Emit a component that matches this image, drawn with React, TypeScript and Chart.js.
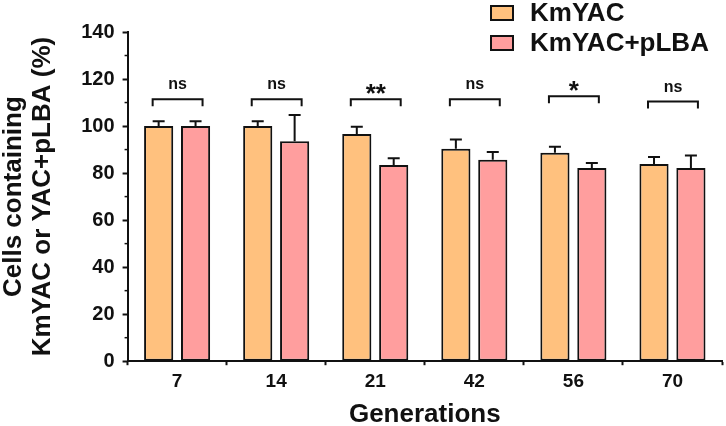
import React, { useEffect, useRef } from 'react';
import { Chart, registerables } from 'chart.js';

Chart.register(...registerables);

const generations = ['7', '14', '21', '42', '56', '70'];
const kmYAC = [100, 100, 96.6, 90.4, 88.7, 83.9];
const kmYACErr = [2, 2, 3.1, 3.9, 2.5, 2.9];
const kmYACpLBA = [100, 93.5, 83.4, 85.7, 82.2, 82.2];
const kmYACpLBAErr = [2, 11.2, 2.9, 3.3, 2.1, 5.3];
const significance = ['ns', 'ns', '**', 'ns', '*', 'ns'];
const bracketLevel = [111.4, 111.4, 111.4, 111.4, 112.7, 110.4];

const FONT = '"Liberation Sans", Arial, sans-serif';
const ORANGE = '#FFC17E';
const PINK = '#FF9E9E';
const INK = '#111111';

const errorBars = {
  id: 'errorBars',
  afterDatasetsDraw(chart: any) {
    const { ctx } = chart;
    const y = chart.scales.y;
    const errs = [kmYACErr, kmYACpLBAErr];
    ctx.save();
    ctx.strokeStyle = INK;
    ctx.lineWidth = 2;
    chart.data.datasets.forEach((ds: any, di: number) => {
      const meta = chart.getDatasetMeta(di);
      meta.data.forEach((bar: any, i: number) => {
        const top = y.getPixelForValue(ds.data[i]);
        const end = y.getPixelForValue(ds.data[i] + errs[di][i]);
        ctx.beginPath();
        ctx.moveTo(bar.x, top);
        ctx.lineTo(bar.x, end);
        ctx.moveTo(bar.x - 6, end);
        ctx.lineTo(bar.x + 6, end);
        ctx.stroke();
      });
    });
    ctx.restore();
  },
};

const brackets = {
  id: 'brackets',
  afterDatasetsDraw(chart: any) {
    const { ctx } = chart;
    const y = chart.scales.y;
    const a = chart.getDatasetMeta(0).data;
    const b = chart.getDatasetMeta(1).data;
    ctx.save();
    ctx.strokeStyle = INK;
    ctx.fillStyle = INK;
    ctx.lineWidth = 2;
    ctx.textAlign = 'center';
    ctx.textBaseline = 'alphabetic';
    significance.forEach((label, i) => {
      const left = a[i].x - 6;
      const right = b[i].x + 7;
      const top = y.getPixelForValue(bracketLevel[i]);
      const leg = top + 7;
      ctx.beginPath();
      ctx.moveTo(left, leg);
      ctx.lineTo(left, top);
      ctx.lineTo(right, top);
      ctx.lineTo(right, leg);
      ctx.stroke();
      const cx = (left + right) / 2;
      if (label === 'ns') {
        ctx.font = `bold 16px ${FONT}`;
        ctx.fillText(label, cx, top - 10);
      } else {
        ctx.font = `bold 26px ${FONT}`;
        ctx.fillText(label, cx, top + 3);
      }
    });
    ctx.restore();
  },
};

const minorTicks = {
  id: 'minorTicks',
  afterDraw(chart: any) {
    const { ctx } = chart;
    const y = chart.scales.y;
    const x0 = chart.chartArea.left;
    ctx.save();
    ctx.strokeStyle = INK;
    ctx.lineWidth = 1.5;
    for (let v = 10; v < 140; v += 20) {
      const py = y.getPixelForValue(v);
      ctx.beginPath();
      ctx.moveTo(x0 - 3, py);
      ctx.lineTo(x0, py);
      ctx.stroke();
    }
    ctx.restore();
  },
};

const boxLegend = {
  id: 'boxLegend',
  afterDraw(chart: any) {
    const { ctx } = chart;
    ctx.save();
    ctx.font = `bold 26px ${FONT}`;
    ctx.textBaseline = 'middle';
    ctx.textAlign = 'left';
    chart.data.datasets.forEach((ds: any, i: number) => {
      const cy = 13 + i * 30;
      ctx.fillStyle = ds.backgroundColor;
      ctx.fillRect(491, cy - 7, 22, 14);
      ctx.strokeStyle = INK;
      ctx.lineWidth = 2;
      ctx.strokeRect(491, cy - 7, 22, 14);
      ctx.fillStyle = INK;
      ctx.fillText(ds.label, 530, cy + 1);
    });
    ctx.restore();
  },
};

const App: React.FC = () => {
  const canvasRef = useRef<HTMLCanvasElement>(null);

  useEffect(() => {
    document.body.style.margin = '0';
    const ctx = canvasRef.current?.getContext('2d');
    if (!ctx) {
      return;
    }

    const chart = new Chart(ctx, {
      type: 'bar',
      data: {
        labels: generations,
        datasets: [
          {
            label: 'KmYAC',
            data: kmYAC,
            backgroundColor: ORANGE,
            borderColor: INK,
            borderWidth: 2,
            borderSkipped: false,
          },
          {
            label: 'KmYAC+pLBA',
            data: kmYACpLBA,
            backgroundColor: PINK,
            borderColor: INK,
            borderWidth: 2,
            borderSkipped: false,
          },
        ],
      },
      options: {
        animation: false,
        responsive: true,
        maintainAspectRatio: false,
        layout: {
          padding: { left: 0, top: 32, right: 4, bottom: -2 },
        },
        datasets: {
          bar: {
            categoryPercentage: 0.745,
            barPercentage: 0.79,
          },
        },
        plugins: {
          legend: { display: false },
          tooltip: { enabled: false },
        },
        scales: {
          x: {
            offset: true,
            grid: {
              display: true,
              drawOnChartArea: false,
              tickLength: 4,
              tickWidth: 2,
              tickColor: INK,
            },
            border: { display: true, color: INK, width: 2 },
            ticks: {
              color: INK,
              font: { family: FONT, size: 19, weight: 'bold' },
              padding: 5,
            },
            title: {
              display: true,
              text: 'Generations',
              color: INK,
              font: { family: FONT, size: 26, weight: 'bold', lineHeight: 1 },
              padding: { top: 4, bottom: 0 },
            },
          },
          y: {
            min: 0,
            max: 140,
            ticks: {
              stepSize: 20,
              color: INK,
              font: { family: FONT, size: 20, weight: 'bold' },
              padding: 8,
            },
            grid: {
              display: true,
              drawOnChartArea: false,
              tickLength: 5,
              tickWidth: 2,
              tickColor: INK,
            },
            border: { display: true, color: INK, width: 2 },
            title: {
              display: true,
              text: ['Cells containing', 'KmYAC or YAC+pLBA (%)'],
              color: INK,
              font: { family: FONT, size: 26, weight: 'bold', lineHeight: 1.1 },
              padding: { top: 0, bottom: 16 },
            },
          },
        },
      },
      plugins: [errorBars, brackets, minorTicks, boxLegend],
    });

    return () => {
      chart.destroy();
    };
  }, []);

  return (
    <div style={{ width: '726px', height: '426px', position: 'relative', background: '#fff' }}>
      <canvas ref={canvasRef}></canvas>
    </div>
  );
};

export default App;
